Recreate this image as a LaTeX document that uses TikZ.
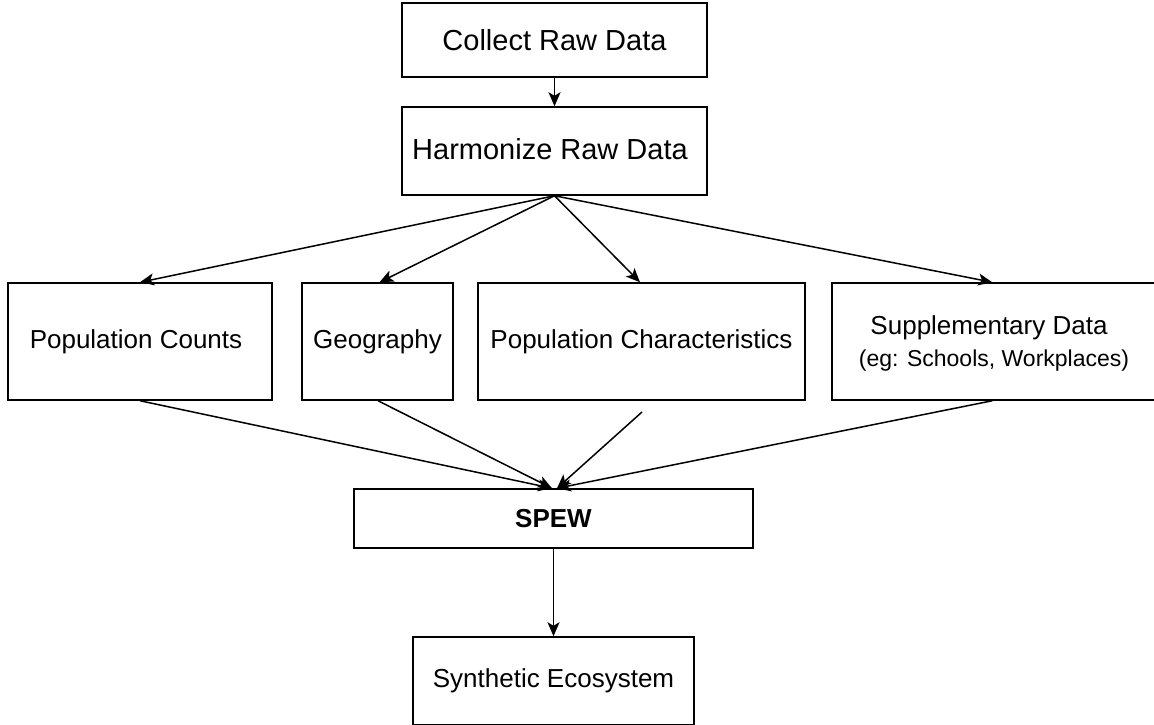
\documentclass[tikz,border=0pt]{standalone}
\usepackage{fontspec}
\setmainfont{Liberation Sans}
\usetikzlibrary{arrows.meta,calc}
\begin{document}
\begin{tikzpicture}[x=1pt,y=-1pt,
  box/.style={draw=black,line width=1.5pt,rectangle,inner sep=0pt,fill=white},
  conn/.style={draw=black,line width=1.5pt,-{Stealth[length=14pt,width=12pt,inset=3.5pt]}},
  big/.style={font=\fontsize{29}{34}\selectfont},
  mid/.style={font=\fontsize{26}{31}\selectfont},
]
\fill[white] (0,0) rectangle (1154,725);
\useasboundingbox (0,0) rectangle (1154,725);

\node[box,big,minimum width=305pt,minimum height=74pt] (collect) at (554.5,40) {Collect Raw Data};
\node[box,minimum width=305pt,minimum height=88pt] (harm) at (554.5,151) {};
\node[big] (harmt) at (550,149) {Harmonize Raw Data};

\node[box,mid,minimum width=264pt,minimum height=117pt] (popc) at (140,341.5) {};
\node[mid] (popct) at (136,342) {Population Counts};
\node[box,mid,minimum width=151pt,minimum height=117pt] (geo) at (377.5,341.5) {Geography};
\node[box,mid,minimum width=327pt,minimum height=117pt] (popchar) at (641.5,341.5) {Population Characteristics};
\node[box,minimum width=340pt,minimum height=117pt] (supp) at (1002,341.5) {};
\node[mid] (suppt1) at (989,328) {Supplementary Data};
\node[font=\fontsize{23}{28}\selectfont] (suppt2) at (994,361) {(eg: Schools, Workplaces)};

\node[box,font=\fontsize{26}{31}\selectfont\bfseries,minimum width=399pt,minimum height=59pt] (spew) at (553.5,518.5) {SPEW};
\node[box,mid,minimum width=281pt,minimum height=88pt] (synth) at (553.5,681) {Synthetic Ecosystem};

\coordinate (pcstart) at (642,412);
\coordinate (in1) at ($(spew.north)+(-1.5,0)$);
\coordinate (in2) at ($(spew.north)+(3.5,0)$);

\draw[conn] (collect.south) -- (harm.north);
\draw[conn] (harm.south) -- (popc.north);
\draw[conn] (harm.south) -- ($(geo.north)+(2,0)$);
\draw[conn] (harm.south) -- ($(popchar.north)+(-1.5,0)$);
\draw[conn] (harm.south) -- ($(supp.north west)+(161,0)$);

\draw[conn] (popc.south) -- (in1);
\draw[conn] ($(geo.south)+(0.5,0)$) -- (in1);
\draw[conn] (pcstart) -- (in2);
\draw[conn] ($(supp.south west)+(161,0)$) -- (in2);

\draw[conn] (spew.south) -- (synth.north);
\end{tikzpicture}
\end{document}
